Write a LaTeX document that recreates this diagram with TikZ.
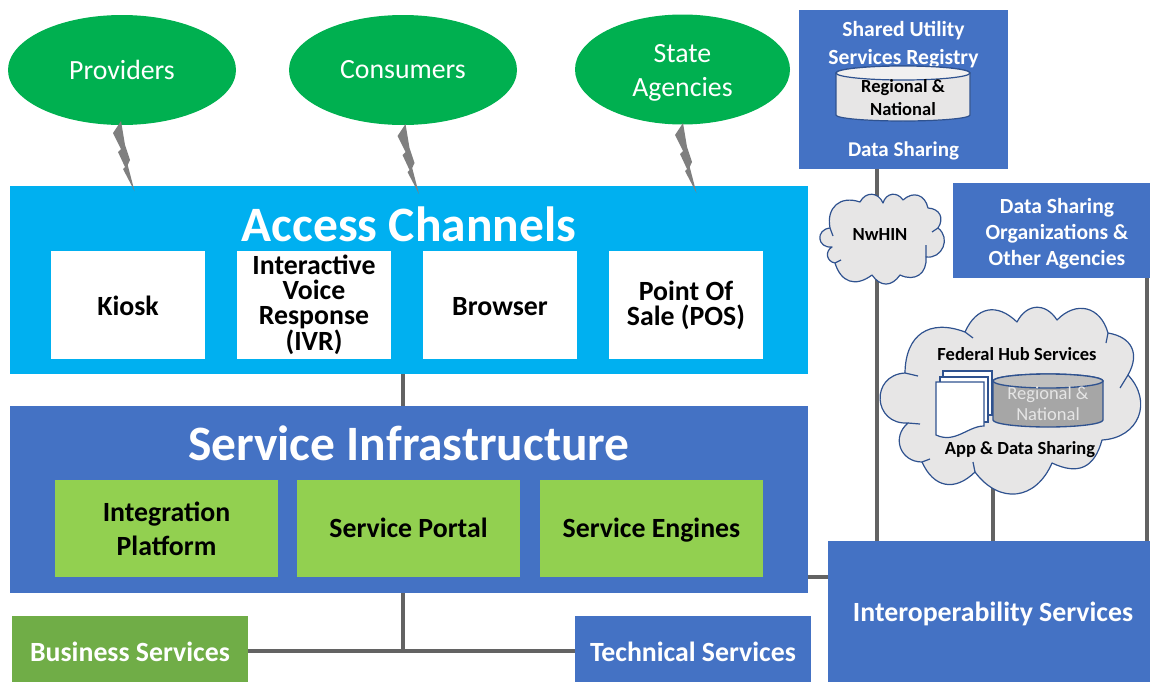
\documentclass[tikz,border=0pt]{standalone}
\usepackage{fontspec}
\setmainfont{Carlito}
\usetikzlibrary{calc,shapes.geometric}
\definecolor{chblue}{HTML}{00B0F0}
\definecolor{inblue}{HTML}{4472C4}
\definecolor{lgreen}{HTML}{92D050}
\definecolor{bgreen}{HTML}{70AD47}
\definecolor{egreen}{HTML}{00B050}
\definecolor{dkedge}{HTML}{2F528F}
\definecolor{wire}{HTML}{636363}
\definecolor{boltgray}{HTML}{7F7F7F}
\definecolor{cloudfill}{HTML}{E7E6E6}
\newcommand{\fs}[2]{\fontsize{\dimexpr#1pt*3/4\relax}{\dimexpr#2pt*3/4\relax}\selectfont}
\tikzset{
  x=0.75pt,y=-0.75pt,
  sz/.style 2 args={minimum width=#1*0.75pt,minimum height=#2*0.75pt,inner sep=0pt,outer sep=0pt},
  box/.style={rectangle,draw=none},
  wirel/.style={draw=wire,line width=2.4pt},
  ell/.style 2 args={ellipse,fill=egreen,sz={#1}{#2}},
  lab/.style 2 args={align=center,inner sep=0pt,font=\fs{#1}{#2}\bfseries},
  reg/.style 2 args={align=center,inner sep=0pt,font=\fs{#1}{#2}},
  oneline/.style={text height=#1,text depth=2pt},
  bolt/.pic={\fill[boltgray] (0,0) -- (-8,12) -- (0,28) -- (-3,31) -- (4,46) -- (2,48) -- (13.5,70) -- (6.7,44) -- (9,39) -- (4,24) -- cycle;},
  cloudp/.style={fill=cloudfill,draw=dkedge,line width=0.9pt,line join=round},
  curl/.style={draw=dkedge,line width=0.9pt},
  docp/.style={fill=white,draw=dkedge,line width=0.9pt},
}
\begin{document}
\begin{tikzpicture}
\useasboundingbox (0,0) rectangle (1150,682);
% boxes
\node[box,fill=chblue,sz={798}{188}] (access) at (409,280) {};
\node[box,fill=inblue,sz={798}{187}] (infra) at (409,499.5) {};
\node[box,fill=inblue,sz={209}{159}] (regb) at (903.5,89.5) {};
\node[box,fill=inblue,sz={197}{95}] (dso) at (1051.5,230.5) {};
\node[box,fill=inblue,sz={322}{141}] (interop) at (989,611.5) {};
\node[box,fill=bgreen,sz={236}{66}] (biz) at (130,649) {};
\node[box,fill=inblue,sz={236}{66}] (tech) at (693,649) {};
\node[lab={27.8}{32},text=white] (interopt) at (993,613.5) {Interoperability Services};
\node[lab={27.8}{32},text=white] (bizt) at (130,652) {Business Services};
\node[lab={27.8}{32},text=white] (techt) at (693,652) {Technical Services};
% hidden anchors for the connectors
\coordinate (xa) at (403,300);
\coordinate (xb) at (877,300);
\coordinate (xc) at (993,300);
\coordinate (xd) at (1147,300);
\coordinate (ybus) at (0,651);
\coordinate (yint) at (0,577);
\coordinate (ycl) at (0,480);
% connectors
\draw[wirel] (xa |- access.south) -- (xa |- infra.north);
\draw[wirel] (xa |- infra.south) -- (xa |- ybus);
\draw[wirel] (biz.east |- ybus) -- (tech.west |- ybus);
\draw[wirel] (infra.east |- yint) -- (interop.west |- yint);
\draw[wirel] (xb |- regb.south) -- (xb |- interop.north);
\draw[wirel] (xd |- dso.south) -- (xd |- interop.north);
\draw[wirel] (xc |- ycl) -- (xc |- interop.north);
% ellipses
\node[ell={228}{110},reg={27.8}{34},text=white] (prov) at (122,70) {Providers};
\node[ell={228}{110},reg={27.8}{34},text=white] (cons) at (403,70) {Consumers};
\node[ell={215}{110},reg={27.8}{34},text=white] (state) at (682.5,69.5) {};
\node[reg={27.8}{34},text=white] (statet) at (682.5,72.5) {State\\Agencies};
% bolts
\pic at (121,121) {bolt};
\pic at (405.5,124) {bolt};
\pic at (683,123) {bolt};
% access channels
\node[lab={49.5}{54},text=white] (acct) at (409,224) {Access Channels};
\node[box,fill=white,sz={154}{108},lab={27.8}{25},oneline=17pt] (kiosk) at (128,305) {Kiosk};
\node[box,fill=white,sz={154}{108},lab={27.8}{24.8}] (ivr) at (314,305) {Interactive\\Voice\\Response\\(IVR)};
\node[box,fill=white,sz={154}{108},lab={27.8}{25},oneline=17pt] (browser) at (500,305) {Browser};
\node[box,fill=white,sz={154}{108},lab={27.8}{25}] (pos) at (686,305) {Point Of\\Sale (POS)};
% infrastructure
\node[lab={49.5}{54},text=white] (inft) at (409,443) {Service Infrastructure};
\node[box,fill=lgreen,sz={223}{97},lab={27.8}{34}] (intg) at (166.5,528.5) {Integration\\Platform};
\node[box,fill=lgreen,sz={223}{97},lab={27.8}{34},oneline=16.2pt] (portal) at (408.5,528.5) {Service Portal};
\node[box,fill=lgreen,sz={223}{97},lab={27.8}{34},oneline=16.2pt] (eng) at (651.5,528.5) {Service Engines};
% registry
\node[lab={21.6}{28},text=white] (regt) at (903.5,45) {Shared Utility\\Services Registry};
\path[fill=cloudfill,draw=dkedge,line width=0.9pt] (836,73) -- (836,115) arc[start angle=180,end angle=0,x radius=67,y radius=6] -- (970,73) arc[start angle=0,end angle=-180,x radius=67,y radius=7] -- cycle;
\path[fill=cloudfill!60!white,draw=dkedge,line width=0.9pt] (903,73) ellipse[x radius=67,y radius=7];
\node[lab={18.5}{23}] (regn) at (903,98) {Regional \&\\National};
\node[lab={21}{28},text=white] (regbt) at (903.5,151) {Data Sharing};
% DSO
\node[lab={21.6}{26},text=white] (dsot) at (1057,234) {Data Sharing\\Organizations \&\\Other Agencies};
% NwHIN
\path[cloudp,looseness=1.35] (830,228) to[bend left=60] (860,202) to[bend left=65] (883,203) to[bend left=65] (903,200) to[bend left=60] (928,208) to[bend left=60] (938,228) to[bend left=75] (926,257) to[bend left=60] (900,275) to[bend left=55] (872,275) to[bend left=55] (835,263) to[bend left=70] (832,247) to[bend left=90,looseness=2] cycle;
\draw[curl] (830,228) -- (833,236) (938,228) -- (932,232) (926,257) -- (926,245) (835,263) -- (841,260);
\node[lab={18.5}{20}] (nw) at (880,234) {NwHIN};
% Federal hub
\path[cloudp,looseness=1.35] (905,373) to[bend left=55] (965,332) to[bend left=55] (1017,322) to[bend left=60] (1057,320) to[bend left=60] (1108,333) to[bend left=55] (1128,375) to[bend left=65] (1102,440) to[bend left=50] (1052,463) to[bend left=60] (975,472) to[bend left=55] (922,462) to[bend left=70] (908,423) to[bend left=90,looseness=1.8] cycle;
\draw[curl] (905,373) -- (918,376) (965,332) -- (973,338) (1108,333) -- (1106,343) (1128,375) -- (1120,388) (975,472) -- (973,462) (922,462) -- (930,459) (908,423) -- (920,424);
\node[lab={18.5}{23}] (fedt) at (1017,354) {Federal Hub Services};
% documents
\path[docp] (943,371) rectangle (992,415);
\path[docp] (940,377) rectangle (988,422);
\path[docp] (936,382) -- (984,382) -- (984,426) .. controls (968,426) and (955,444) .. (936,435) -- cycle;
% cylinder
\path[fill=black!35,draw=dkedge,line width=1pt] (993,381) -- (993,420) arc[start angle=180,end angle=0,x radius=55,y radius=7] -- (1103,381) arc[start angle=0,end angle=-180,x radius=55,y radius=7] -- cycle;
\path[fill=black!25,draw=dkedge,line width=1pt] (1048,381) ellipse[x radius=55,y radius=7];
\node[reg={18.5}{21},text=white!90!black] (fedn) at (1048,404) {Regional \&\\National};
\node[lab={18.5}{23}] (fedb) at (1020,450) {App \& Data Sharing};
\end{tikzpicture}
\end{document}
